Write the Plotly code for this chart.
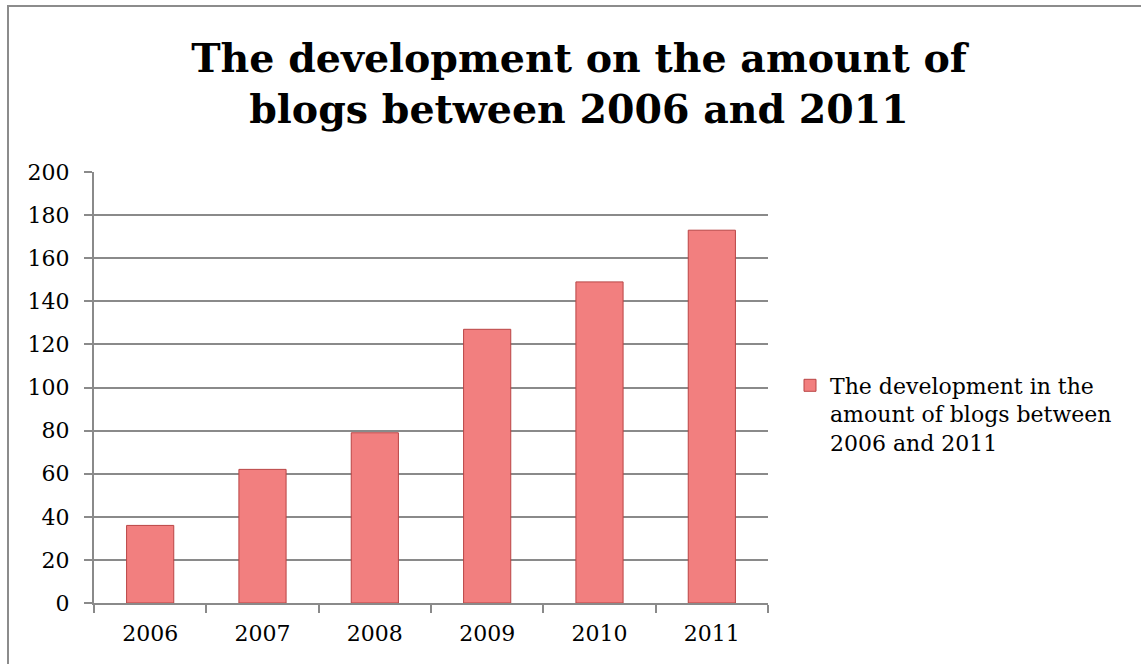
import plotly.graph_objects as go

years = ["2006", "2007", "2008", "2009", "2010", "2011"]
blogs = [36, 62, 79, 127, 149, 173]
series_name = "The development in the<br>amount of blogs between<br>2006 and 2011"
title_text = "The development on the amount of<br>blogs between 2006 and 2011"
y_ticks = list(range(0, 201, 20))

W, H = 1141, 664
ML, MR, MT, MB = 94, 373, 172, 61
PW, PH = W - ML - MR, H - MT - MB

def px_x(px):
    return (px - ML) / PW

def px_y(py):
    return (H - MB - py) / PH

FONT = "DejaVu Serif"
GRID = "#8a8a8a"

fig = go.Figure()
fig.add_trace(go.Bar(
    x=years, y=blogs, name=series_name,
    marker=dict(color="#f27f7f", line=dict(color="#b94545", width=1)),
    width=0.42,
))

fig.update_layout(
    width=W, height=H,
    margin=dict(l=ML, r=MR, t=MT, b=MB),
    paper_bgcolor="white", plot_bgcolor="white",
    font=dict(family=FONT, size=22, color="black"),
    title=dict(text="<b>" + title_text + "</b>", x=579 / W, xref="container",
               xanchor="center", y=1 - 72 / H, yref="container", yanchor="middle",
               font=dict(family=FONT, size=39.5, color="black")),
    showlegend=True,
    legend=dict(x=px_x(790), y=px_y(414), xanchor="left", yanchor="middle",
                font=dict(family=FONT, size=22, color="black"), valign="top",
                itemwidth=30, tracegroupgap=0, bgcolor="rgba(0,0,0,0)"),
    bargap=0.58,
    shapes=[dict(type="rect", xref="paper", yref="paper",
                 x0=px_x(8), x1=px_x(W + 20), y0=px_y(H + 20), y1=px_y(6),
                 line=dict(color="#8c8c8c", width=2), fillcolor="rgba(0,0,0,0)",
                 layer="below")],
)

fig.update_xaxes(type="category", showgrid=False, showline=True, linecolor=GRID, linewidth=2,
                 ticks="outside", tickson="boundaries", ticklen=8, tickcolor=GRID, tickwidth=2,
                 ticklabelstandoff=10,
                 tickfont=dict(family=FONT, size=22, color="black"))
fig.update_yaxes(range=[0, 200], tickvals=y_ticks, showgrid=True, gridcolor=GRID, gridwidth=2,
                 showline=True, linecolor=GRID, linewidth=2, zeroline=False,
                 ticks="outside", ticklen=8, tickcolor=GRID, tickwidth=2,
                 ticklabelstandoff=10,
                 tickfont=dict(family=FONT, size=22, color="black"))

fig.write_html("out.html", config={"displayModeBar": False})
with open("out.html", "r", encoding="utf-8") as f:
    html = f.read()
html = html.replace("<head>", "<head><style>html,body{margin:0;padding:0;overflow:hidden;}</style>", 1)
with open("out.html", "w", encoding="utf-8") as f:
    f.write(html)
